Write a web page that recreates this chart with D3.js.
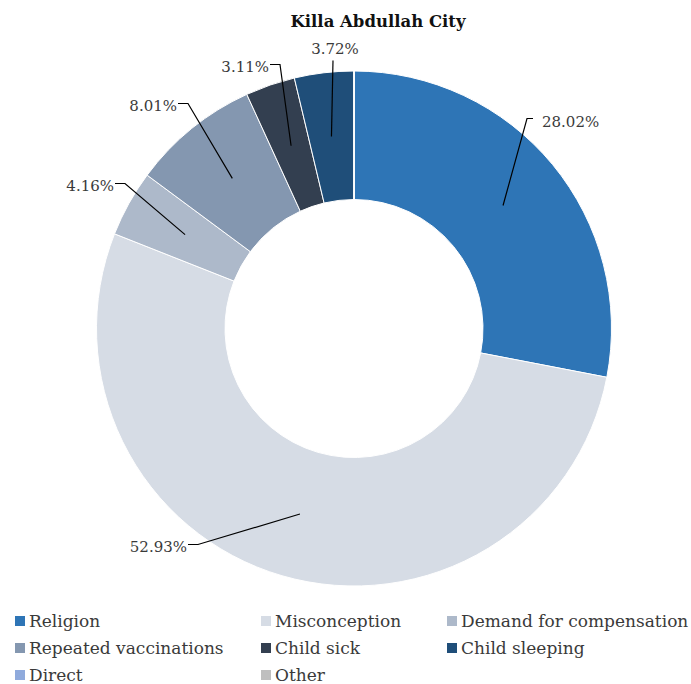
<!DOCTYPE html>
<html>
<head>
<meta charset="utf-8">
<script src="https://cdn.jsdelivr.net/npm/d3@7"></script>
<style>
  body { margin: 0; background: #fff; }
  svg { display: block; font-family: "DejaVu Serif", serif; }
</style>
</head>
<body>
<svg id="chart" width="691" height="684"></svg>
<script>
// chart data
const categories = ["Religion", "Misconception", "Demand for compensation", "Repeated vaccinations",
                    "Child sick", "Child sleeping", "Direct", "Other"];
const values = [28.02, 52.93, 4.16, 8.01, 3.11, 3.72, 0, 0];
const labels = ["28.02%", "52.93%", "4.16%", "8.01%", "3.11%", "3.72%", "", ""];
const colors = ["#2e75b6", "#d6dce5", "#adb9ca", "#8497b0", "#333f50", "#1f4e79", "#8faadc", "#bfbfbf"];

// label elbows, as offsets from the centre (the labels were dragged by hand in the original)
const labelOffsets = [[173, -210, "right"], [-156, 216, "left"], [-229, -145, "left"],
                      [-166, -225, "left"], [-74, -264, "left"], [-21, -268, "top"], null, null];

const svg = d3.select("#chart");
const cx = 354, cy = 328.5, outerR = 257.5, innerR = 129;

svg.append("text")
  .attr("x", 378).attr("y", 27)
  .attr("text-anchor", "middle")
  .attr("font-size", 16.5).attr("font-weight", "bold")
  .attr("fill", "#111")
  .text("Killa Abdullah City");

const pie = d3.pie().sort(null).value(d => d)(values);
const arc = d3.arc().innerRadius(innerR).outerRadius(outerR);
const mid = d3.arc().innerRadius((innerR + outerR) / 2).outerRadius((innerR + outerR) / 2);

const g = svg.append("g").attr("transform", `translate(${cx},${cy})`);

g.selectAll("path.slice")
  .data(pie)
  .enter().append("path")
  .attr("class", "slice")
  .attr("d", arc)
  .attr("fill", (d, i) => colors[i])
  .attr("stroke", "#fff")
  .attr("stroke-width", 1);

// leader lines + labels
pie.forEach((d, i) => {
  const off = labelOffsets[i];
  if (!off || !labels[i]) return;
  const c = mid.centroid(d);
  const [ex, ey, side] = off;
  let pts, tx, ty, anchor;
  if (side === "right") {
    pts = [c, [ex, ey], [ex + 6, ey]];
    tx = ex + 15; ty = ey + 8; anchor = "start";
  } else if (side === "left") {
    pts = [c, [ex, ey], [ex - 10, ey]];
    tx = ex - 11; ty = ey + 7; anchor = "end";
  } else {
    pts = [c, [ex, ey]];
    tx = ex + 2; ty = ey - 7; anchor = "middle";
  }
  g.append("path")
    .attr("d", d3.line()(pts))
    .attr("fill", "none")
    .attr("stroke", "#000")
    .attr("stroke-width", 1.2);
  g.append("text")
    .attr("x", tx).attr("y", ty)
    .attr("text-anchor", anchor)
    .attr("font-size", 15)
    .attr("fill", "#3a3a3a")
    .text(labels[i]);
});

// legend, 3 columns
const colX = [15, 261, 447];
const rowY = [621, 648, 675];
const legend = svg.append("g");
categories.forEach((name, i) => {
  const x = colX[i % 3], y = rowY[Math.floor(i / 3)];
  legend.append("rect")
    .attr("x", x).attr("y", y - 5)
    .attr("width", 10).attr("height", 10)
    .attr("fill", colors[i]);
  legend.append("text")
    .attr("x", x + 14).attr("y", y + 6)
    .attr("font-size", 17)
    .attr("fill", "#3a3a3a")
    .text(name);
});
</script>
</body>
</html>
